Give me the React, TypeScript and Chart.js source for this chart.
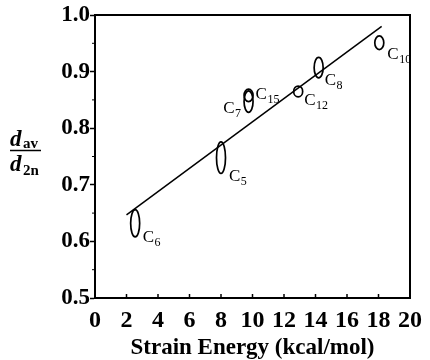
import React, { useEffect, useRef } from 'react';
import { Chart, registerables } from 'chart.js';

Chart.register(...registerables);

// ---- data ----
const compounds = ['6', '5', '7', '15', '12', '8', '10'];
const strainEnergy = [2.55, 8.0, 9.75, 9.75, 12.9, 14.2, 18.05];
const distanceRatio = [0.632, 0.748, 0.847, 0.858, 0.865, 0.907, 0.951];
const ratioError = [0.024, 0.028, 0.019, 0.011, 0.0095, 0.018, 0.012];
const fitEnergy = [2.0, 18.2];
const fitRatio = [0.647, 0.98];
const xTickValues = [0, 2, 4, 6, 8, 10, 12, 14, 16, 18, 20];
const yTickValues = [0.5, 0.6, 0.7, 0.8, 0.9, 1.0];
const yMinorTickValues = [0.55, 0.65, 0.75, 0.85, 0.95];

// ---- style ----
const SERIF = '"Liberation Serif", "Times New Roman", serif';
const ELLIPSE_HALF_WIDTH = 4.5;
const labelStyle = [
  { dx: 7.5, dy: 18.5, align: 'left' },
  { dx: 8, dy: 23, align: 'left' },
  { dx: -7, dy: 11, align: 'right' },
  { dx: 7, dy: 3.5, align: 'left' },
  { dx: 6, dy: 13.5, align: 'left' },
  { dx: 6, dy: 17, align: 'left' },
  { dx: 8, dy: 16, align: 'left' },
];

const ellipsePlugin = {
  id: 'ellipses',
  afterDatasetsDraw(chart: any) {
    const { ctx, scales } = chart;
    const xs = scales.x;
    const ys = scales.y;
    ctx.save();
    ctx.strokeStyle = '#000';
    ctx.lineWidth = 1.7;
    strainEnergy.forEach((e, i) => {
      const cx = xs.getPixelForValue(e);
      const cy = ys.getPixelForValue(distanceRatio[i]);
      const top = ys.getPixelForValue(distanceRatio[i] + ratioError[i]);
      const rh = Math.abs(cy - top);
      ctx.beginPath();
      ctx.ellipse(cx, cy, ELLIPSE_HALF_WIDTH, rh, 0, 0, Math.PI * 2);
      ctx.stroke();
    });
    // labels
    ctx.fillStyle = '#000';
    ctx.textBaseline = 'alphabetic';
    strainEnergy.forEach((e, i) => {
      const cx = xs.getPixelForValue(e);
      const cy = ys.getPixelForValue(distanceRatio[i]);
      const st = labelStyle[i];
      const mainFont = `17px ${SERIF}`;
      const subFont = `12px ${SERIF}`;
      ctx.font = mainFont;
      const wC = ctx.measureText('C').width;
      ctx.font = subFont;
      const wS = ctx.measureText(compounds[i]).width;
      let x = cx + st.dx;
      if (st.align === 'right') x = x - (wC + wS + 1);
      const y = cy + st.dy;
      ctx.font = mainFont;
      ctx.textAlign = 'left';
      ctx.fillText('C', x, y);
      ctx.font = subFont;
      ctx.fillText(compounds[i], x + wC + 0.5, y + 4);
    });
    ctx.restore();
  },
  afterDraw(chart: any) {
    const { ctx, chartArea, scales } = chart;
    const xs = scales.x;
    const ys = scales.y;
    ctx.save();
    ctx.strokeStyle = '#000';
    // frame top and right
    ctx.lineWidth = 2;
    ctx.beginPath();
    ctx.moveTo(chartArea.left, chartArea.top);
    ctx.lineTo(chartArea.right, chartArea.top);
    ctx.lineTo(chartArea.right, chartArea.bottom);
    ctx.stroke();
    // x ticks, inward
    ctx.lineWidth = 1.5;
    xTickValues.forEach((v) => {
      const px = xs.getPixelForValue(v);
      ctx.beginPath();
      ctx.moveTo(px, chartArea.bottom);
      ctx.lineTo(px, chartArea.bottom - 4);
      ctx.stroke();
    });
    // y minor ticks
    ctx.lineWidth = 1;
    yMinorTickValues.forEach((v) => {
      const py = ys.getPixelForValue(v);
      ctx.beginPath();
      ctx.moveTo(chartArea.left, py);
      ctx.lineTo(chartArea.left - 3, py);
      ctx.stroke();
    });
    // y title: d_av / d_2n
    ctx.fillStyle = '#000';
    ctx.textAlign = 'left';
    ctx.textBaseline = 'alphabetic';
    const cy = (chartArea.top + chartArea.bottom) / 2 - 3;
    ctx.font = `italic bold 23px ${SERIF}`;
    ctx.fillText('d', 10, cy - 8);
    ctx.font = `bold 15px ${SERIF}`;
    ctx.fillText('av', 23, cy - 6);
    ctx.lineWidth = 1.5;
    ctx.beginPath();
    ctx.moveTo(10, cy - 3);
    ctx.lineTo(41, cy - 3);
    ctx.stroke();
    ctx.font = `italic bold 23px ${SERIF}`;
    ctx.fillText('d', 10, cy + 17);
    ctx.font = `bold 15px ${SERIF}`;
    ctx.fillText('2n', 23, cy + 21);
    ctx.restore();
  },
};

export default function App() {
  const canvasRef = useRef<HTMLCanvasElement | null>(null);

  useEffect(() => {
    const canvas = canvasRef.current;
    if (!canvas) return;
    const chart = new Chart(canvas, {
      type: 'scatter',
      data: {
        datasets: [
          {
            type: 'line',
            data: fitEnergy.map((x, i) => ({ x, y: fitRatio[i] })),
            borderColor: '#000',
            borderWidth: 1.5,
            pointRadius: 0,
            fill: false,
          } as any,
          {
            type: 'scatter',
            data: strainEnergy.map((x, i) => ({ x, y: distanceRatio[i] })),
            pointRadius: 0,
            borderColor: '#000',
          },
        ],
      },
      options: {
        animation: false,
        responsive: false,
        layout: { padding: { top: 15, right: 16, left: 0, bottom: 0 } },
        plugins: { legend: { display: false }, tooltip: { enabled: false } },
        scales: {
          x: {
            type: 'linear',
            position: 'bottom',
            min: 0,
            max: 20,
            afterBuildTicks: (s: any) => {
              s.ticks = xTickValues.map((v) => ({ value: v }));
            },
            afterFit: (s: any) => {
              s.height = 62;
            },
            ticks: {
              color: '#000',
              padding: 8,
              maxRotation: 0,
              autoSkip: false,
              font: { family: SERIF, size: 24, weight: 'bold' },
            },
            grid: { drawOnChartArea: false, drawTicks: false },
            border: { color: '#000', width: 2 },
            title: {
              display: true,
              text: 'Strain Energy (kcal/mol)',
              color: '#000',
              padding: 0,
              font: { family: SERIF, size: 23, weight: 'bold', lineHeight: 1 },
            },
          },
          y: {
            type: 'linear',
            min: 0.5,
            max: 1.0,
            afterBuildTicks: (s: any) => {
              s.ticks = yTickValues.map((v) => ({ value: v }));
            },
            afterFit: (s: any) => {
              s.width = 95;
            },
            ticks: {
              color: '#000',
              padding: 0,
              autoSkip: false,
              callback: (v: any) => Number(v).toFixed(1),
              font: { family: SERIF, size: 23, weight: 'bold' },
            },
            grid: {
              drawOnChartArea: false,
              drawTicks: true,
              tickLength: 5,
              tickWidth: 1.5,
              tickColor: '#000',
            },
            border: { color: '#000', width: 2 },
          },
        },
      },
      plugins: [ellipsePlugin],
    });
    return () => chart.destroy();
  }, []);

  return (
    <div style={{ position: 'absolute', left: 0, top: 0, width: 430, height: 360, background: '#fff' }}>
      <canvas ref={canvasRef} width={430} height={360} style={{ display: 'block' }} />
    </div>
  );
}
